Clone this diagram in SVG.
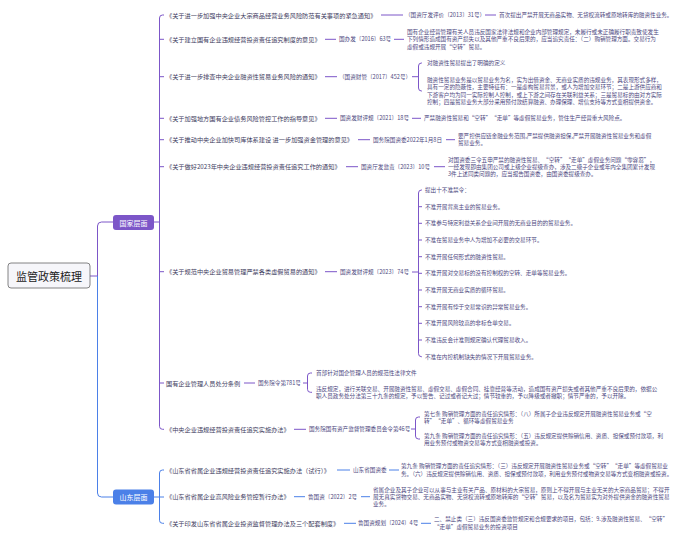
<svg xmlns="http://www.w3.org/2000/svg" width="692" height="543" viewBox="0 0 692 543">
<style>
text{font-family:"Noto Sans CJK SC","Noto Sans",sans-serif;dominant-baseline:central}
.t{font-size:6.2px;fill:#3d3b5e}
.d{font-size:5.6px;fill:#4d4880}
.root{font-size:11px;fill:#222;text-anchor:middle}
.b{font-size:7px;fill:#fff;text-anchor:middle}
.c{fill:none;stroke:#7c56c8;stroke-width:1}
.cb{fill:none;stroke:#4b80e8;stroke-width:1}
</style>
<rect width="692" height="543" fill="#fff"/>
<g id="connectors">
<path class="c" d="M90,276H97.5V226Q97.5,222 101.5,222H113"/>
<path class="cb" d="M97.5,276V493Q97.5,497 101.5,497H113"/>
<path class="c" d="M154,222H159.5M164,15H162.5Q159.5,15 159.5,18V426.3Q159.5,429.3 162.5,429.3H164M159.5,39.3H164M159.5,76.7H164M159.5,118.3H164M159.5,139.7H164M159.5,166.7H164M159.5,271.7H164M159.5,383H164"/>
<path class="c" d="M381,15H403M485,15H496"/>
<path class="c" d="M325,39.3H336M394,39.3H404"/>
<path class="c" d="M325,76.7H337M412,76.7H418.5M422,63H421.5Q418.5,63 418.5,66V88Q418.5,91 421.5,91H422"/>
<path class="c" d="M325,118.3H337M412,118.3H421"/>
<path class="c" d="M358,139.7H370M446,139.7H455"/>
<path class="c" d="M346,166.7H358M434,166.7H445"/>
<path class="c" d="M325,271.7H337M412,272H418.5M422,190H421.5Q418.5,190 418.5,193V353.7Q418.5,356.7 421.5,356.7H422M418.5,206.7H422M418.5,223.3H422M418.5,240H422M418.5,256.7H422M418.5,273.3H422M418.5,290H422M418.5,306.7H422M418.5,323.3H422M418.5,340H422"/>
<path class="c" d="M244,383H255M303,383H307.5M312,373H310.5Q307.5,373 307.5,376V389.3Q307.5,392.3 310.5,392.3H312"/>
<path class="c" d="M294,429.3H306M411,429H415.5M420,417H418.5Q415.5,417 415.5,420V436Q415.5,439 418.5,439H420"/>
<path class="cb" d="M154,497H159.5M164,470H162.5Q159.5,470 159.5,473V520.3Q159.5,523.3 162.5,523.3H164M159.5,497H164"/>
<path class="cb" d="M337,470H350M389,470H399"/>
<path class="cb" d="M294,496.7H305M361,496.7H370"/>
<path class="cb" d="M344,523.3H356M421,523.3H431"/>
</g>
<g id="root">
<rect x="8" y="263" width="82" height="25" rx="3" fill="#f6f6fa" stroke="#666" stroke-width="0.8"/>
<text class="root" x="49" y="276">监管政策梳理</text>
</g>
<g id="national">
<rect x="113" y="215" width="41" height="15" rx="3" fill="#7c56c8"/>
<text class="b" x="133.5" y="222.5">国家层面</text>
</g>
<g id="shandong">
<rect x="113" y="489.5" width="41" height="15" rx="3" fill="#4b80e8"/>
<text class="b" x="133.5" y="497">山东层面</text>
</g>
<g id="n1">
<text class="t" x="166" y="15">《关于进一步加强中央企业大宗商品经营业务风险防范有关事项的紧急通知》</text>
<text class="d" x="405" y="15">（国资厅发评价〔2013〕31号）</text>
<text class="d" x="499" y="15">首次提出严禁开展无商品实物、无货权流转或原地转库的融资性业务。</text>
</g>
<g id="n2">
<text class="t" x="166" y="39.3">《关于建立国有企业违规经营投资责任追究制度的意见》</text>
<text class="d" x="339" y="39.3">国办发〔2016〕63号</text>
<text class="d" x="407" y="31.5">国有企业经营管理有关人员违反国家法律法规和企业内部管理规定，未履行或未正确履行职责致使发生</text>
<text class="d" x="407" y="39.3">下列情形造成国有资产损失以及其他严重不良后果的，应当追究责任：（二）购销管理方面。交易行为</text>
<text class="d" x="407" y="47">虚假或违规开展“空转”贸易。</text>
</g>
<g id="n3">
<text class="t" x="166" y="76.7">《关于进一步排查中央企业融资性贸易业务风险的通知》</text>
<text class="d" x="339" y="76.7">（国资财管〔2017〕452号）</text>
<text class="d" x="427" y="63">对融资性贸易提出了明确的定义</text>
<text class="d" x="427" y="80">融资性贸易业务是以贸易业务为名，实为出借资金、无商业实质的违规业务，其表现形式多样，</text>
<text class="d" x="427" y="87.3">具有一定的隐蔽性，主要特征有：一是虚构贸易背景，或人为增加交易环节；二是上游供应商和</text>
<text class="d" x="427" y="94.6">下游客户均为同一实际控制人控制，或上下游之间存在关联利益关系；三是贸易标的由对方实际</text>
<text class="d" x="427" y="101.9">控制；四是贸易业务大部分采用预付款结算融资、办理保理、增信支持等方式变相提供资金。</text>
</g>
<g id="n4">
<text class="t" x="166" y="118.3">《关于加强地方国有企业债务风险管控工作的指导意见》</text>
<text class="d" x="340" y="118.3">国资发财评规〔2021〕18号</text>
<text class="d" x="424" y="118.3">严禁融资性贸易和“空转”“走单”等虚假贸易业务，管住生产经营重大风险点。</text>
</g>
<g id="n5">
<text class="t" x="166" y="139.7">《关于推动中央企业加快司库体系建设 进一步加强资金管理的意见》</text>
<text class="d" x="373" y="139.7">国务院国资委2022年1月8日</text>
<text class="d" x="458" y="135.8">要严控供应链金融业务范围,严禁提供融资担保,严禁开展融资性贸易业务和虚假</text>
<text class="d" x="458" y="143.3">贸易业务。</text>
</g>
<g id="n6">
<text class="t" x="166" y="166.7">《关于做好2023年中央企业违规经营投资责任追究工作的通知》</text>
<text class="d" x="361" y="166.7">国资厅发监责〔2023〕10号</text>
<text class="d" x="448" y="159.8">对国资委三令五申严禁的融资性贸易、“空转”“走单”虚假业务问题“零容忍”，</text>
<text class="d" x="448" y="167">一经发现即由集团公司或上级企业提级查办，涉及二级子企业或年内全集团累计发现</text>
<text class="d" x="448" y="174.2">3件上述同类问题的，应当报告国资委，由国资委提级查办。</text>
</g>
<g id="n7">
<text class="t" x="166" y="271.7">《关于规范中央企业贸易管理严禁各类虚假贸易的通知》</text>
<text class="d" x="340" y="271.7">国资发财评规〔2023〕74号</text>
<text class="d" x="425" y="190">提出十不准禁令：</text>
<text class="d" x="425" y="206.7">不准开展背离主业的贸易业务。</text>
<text class="d" x="425" y="223.3">不准参与特定利益关系企业间开展的无商业目的的贸易业务。</text>
<text class="d" x="425" y="240">不准在贸易业务中人为增加不必要的交易环节。</text>
<text class="d" x="425" y="256.7">不准开展任何形式的融资性贸易。</text>
<text class="d" x="425" y="273.3">不准开展对交易标的没有控制权的空转、走单等贸易业务。</text>
<text class="d" x="425" y="290">不准开展无商业实质的循环贸易。</text>
<text class="d" x="425" y="306.7">不准开展有悖于交易常识的异常贸易业务。</text>
<text class="d" x="425" y="323.3">不准开展风险较高的非标仓单交易。</text>
<text class="d" x="425" y="340">不准违反会计准则规定确认代理贸易收入。</text>
<text class="d" x="425" y="356.7">不准在内控机制缺失的情况下开展贸易业务。</text>
</g>
<g id="n8">
<text class="t" x="166" y="383">国有企业管理人员处分条例</text>
<text class="d" x="258" y="383">国务院令第781号</text>
<text class="d" x="316" y="373">首部针对国企管理人员的规范性法律文件</text>
<text class="d" x="316" y="388.5">违反规定，进行关联交易、开展融资性贸易、虚假交易、虚假合同、挂靠经营等活动，造成国有资产损失或者其他严重不良后果的，依据公</text>
<text class="d" x="316" y="396">职人员政务处分法第三十九条的规定，予以警告、记过或者记大过；情节较重的，予以降级或者撤职；情节严重的，予以开除。</text>
</g>
<g id="n9">
<text class="t" x="166" y="429.3">《中央企业违规经营投资责任追究实施办法》</text>
<text class="d" x="309" y="429.3">国务院国有资产监督管理委员会令第46号</text>
<text class="d" x="424" y="413.5">第七条 购销管理方面的责任追究情形：（八）所属子企业违反规定开展融资性贸易业务或“空</text>
<text class="d" x="424" y="420.7">转”“走单”、循环等虚假贸易业务</text>
<text class="d" x="424" y="435.7">第九条 购销管理方面的责任追究情形：（五）违反规定提供赊销信用、资质、担保或预付款项，利</text>
<text class="d" x="424" y="442.9">用业务预付或物资交易等方式变相融资或投资。</text>
</g>
<g id="n10">
<text class="t" x="166" y="470">《山东省省属企业违规经营投资责任追究实施办法（试行）》</text>
<text class="d" x="353" y="470">山东省国资委</text>
<text class="d" x="401" y="466.3">第九条 购销管理方面的责任追究情形：（三）违反规定开展融资性贸易业务或“空转”“走单”等虚假贸易业</text>
<text class="d" x="401" y="473.6">务。（六）违反规定提供赊销信用、资质、担保或预付款项，利用业务预付或物资交易等方式变相融资或投资。</text>
</g>
<g id="n11">
<text class="t" x="166" y="496.7">《山东省省属企业高风险业务管控暂行办法》</text>
<text class="d" x="308" y="496.7">鲁国资〔2022〕2号</text>
<text class="d" x="373" y="489.6">省属企业及其子企业可以从事与主业有关产品、原材料的大宗贸易，原则上不得开展与主业无关的大宗商品贸易；不得开</text>
<text class="d" x="373" y="497">展无真实货物交易、无商品实物、无货权流转或原地转库的“空转”贸易，以及名为贸易实为对外提供资金的融资性贸易</text>
<text class="d" x="373" y="504.4">业务。</text>
</g>
<g id="n12">
<text class="t" x="166" y="523.3">《关于印发山东省省属企业投资监督管理办法及三个配套制度》</text>
<text class="d" x="358" y="523.3">鲁国资规划〔2024〕4号</text>
<text class="d" x="434" y="519">二、禁止类（三）违反国资委监管规定和合规要求的项目，包括：9.涉及融资性贸易、“空转”</text>
<text class="d" x="434" y="527">“走单”虚假贸易业务的投资项目</text>
</g>
</svg>
